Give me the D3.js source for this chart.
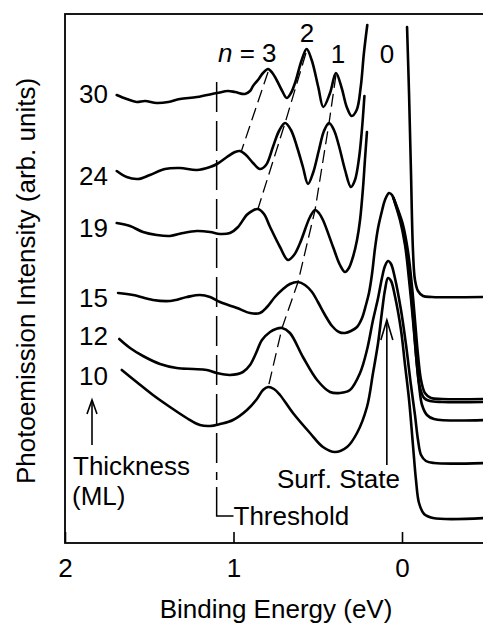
<!DOCTYPE html>
<html>
<head>
<meta charset="utf-8">
<script src="https://d3js.org/d3.v7.min.js"></script>
<style>
  body { margin: 0; background: #fff; }
  text { font-family: "Liberation Sans", Arial, Helvetica, sans-serif; fill: #000; }
</style>
</head>
<body>
<svg id="chart" width="483" height="626"></svg>
<script>
// thickness labels (ML), top to bottom
const thickness = ["30", "24", "19", "15", "12", "10"];
const tickValues = [2, 1, 0];

// spectra: [binding energy (eV), intensity (arb.)], null = break in the curve
const ml30 = [[1.693,448],[1.634,444],[1.575,441],[1.525,442],[1.456,440],[1.387,441],[1.318,444],[1.217,446],[1.098,450],[1.033,452],[0.991,451],[0.932,449],[0.902,452],[0.884,457],[0.855,463],[0.825,470],[0.795,474],[0.769,470],[0.744,463],[0.714,453],[0.684,445],[0.659,450],[0.635,460],[0.595,483],[0.566,494],[0.536,483],[0.497,456],[0.467,436],[0.427,450],[0.392,470],[0.358,455],[0.328,436],[0.299,427],[0.269,433],[0.245,456],[0.226,490],[0.206,518],[0.09,null],[-0.030,516],[-0.042,448],[-0.053,373],[-0.065,293],[-0.077,263],[-0.095,252],[-0.125,247],[-0.178,246],[-0.5,246]];
const ml24 = [[1.693,372],[1.634,366],[1.567,364],[1.496,368],[1.407,374],[1.318,375],[1.217,373],[1.139,376],[1.098,379],[1.039,386],[0.991,391],[0.961,392],[0.926,388],[0.884,380],[0.843,374],[0.807,378],[0.766,396],[0.730,412],[0.694,420],[0.659,413],[0.623,396],[0.588,376],[0.558,359],[0.528,370],[0.493,393],[0.463,412],[0.433,420],[0.404,413],[0.374,397],[0.338,373],[0.303,356],[0.279,363],[0.255,385],[0.237,415],[0.223,447],[0.12,null],[0.053,346],[0.030,336],[-0.006,318],[-0.036,291],[-0.059,257],[-0.077,223],[-0.095,188],[-0.113,163],[-0.136,150],[-0.172,145],[-0.237,144],[-0.5,144]];
const ml19 = [[1.693,320],[1.614,317],[1.537,311],[1.456,308],[1.377,307],[1.300,310],[1.218,312],[1.139,311],[1.080,309],[1.021,310],[0.973,316],[0.922,328],[0.890,332],[0.855,334],[0.819,329],[0.783,316],[0.724,296],[0.677,283],[0.641,288],[0.605,300],[0.546,326],[0.516,333],[0.493,330],[0.469,323],[0.409,296],[0.368,278],[0.338,271],[0.315,275],[0.291,286],[0.267,303],[0.249,323],[0.231,356],[0.220,383],[0.208,411],[0.12,null],[0.050,345],[0.024,332],[-0.006,314],[-0.030,288],[-0.053,251],[-0.071,215],[-0.089,178],[-0.107,155],[-0.131,145],[-0.166,142],[-0.237,141],[-0.5,141]];
const ml15 = [[1.685,250],[1.596,248],[1.478,243],[1.377,242],[1.276,246],[1.199,248],[1.139,246],[1.080,241],[0.979,235],[0.902,230],[0.843,230],[0.801,236],[0.754,246],[0.706,254],[0.665,259],[0.617,261],[0.576,258],[0.534,251],[0.499,241],[0.457,228],[0.415,217],[0.374,211],[0.338,210],[0.303,212],[0.267,216],[0.237,225],[0.214,238],[0.196,250],[0.178,269],[0.160,295],[0.142,315],[0.119,332],[0.101,343],[0.077,350],[0.059,348],[0.042,340],[0.012,323],[-0.018,298],[-0.042,263],[-0.065,223],[-0.083,188],[-0.101,158],[-0.119,138],[-0.148,128],[-0.190,124],[-0.5,123]];
const ml12 = [[1.678,204],[1.614,195],[1.537,187],[1.436,179],[1.337,175],[1.240,174],[1.159,173],[1.100,170],[1.021,168],[0.944,171],[0.902,178],[0.866,190],[0.831,203],[0.783,211],[0.748,214],[0.712,215],[0.665,210],[0.588,186],[0.504,163],[0.427,151],[0.368,150],[0.309,153],[0.249,170],[0.208,193],[0.172,223],[0.142,245],[0.119,265],[0.101,277],[0.083,282],[0.065,279],[0.042,265],[0.006,233],[-0.024,198],[-0.053,158],[-0.077,128],[-0.095,103],[-0.113,88],[-0.142,82],[-0.190,80],[-0.5,80]];
const ml10 = [[1.663,173],[1.575,161],[1.478,148],[1.377,136],[1.278,125],[1.199,118],[1.139,117],[1.080,119],[1.003,123],[0.920,133],[0.861,144],[0.825,153],[0.795,156],[0.760,154],[0.724,148],[0.647,130],[0.546,110],[0.469,96],[0.398,91],[0.326,96],[0.267,110],[0.208,136],[0.172,170],[0.142,200],[0.119,231],[0.101,253],[0.083,265],[0.065,262],[0.042,247],[0.006,213],[-0.018,178],[-0.042,143],[-0.065,98],[-0.083,63],[-0.101,40],[-0.131,29],[-0.184,25],[-0.5,25]];

// dashed guides through the quantum well peaks
const branchN3 = [[0.795,471],[0.955,391]];
const branchN2 = [[0.570,490],[0.694,420],[0.855,334]];
const branchN1 = [[0.392,468],[0.433,420],[0.516,333],[0.617,261],[0.712,215],[0.795,155]];
const thresholdEV = 1.1;
const surfStateEV = 0.09;

const spectra = [ml30, ml24, ml19, ml15, ml12, ml10];
const branches = [branchN3, branchN2, branchN1];

const svg = d3.select("#chart");
const font = "'Liberation Sans', Arial, Helvetica, sans-serif";

const x = d3.scaleLinear().domain([2, -0.5]).range([65, 486.25]);
const y = d3.scaleLinear().domain([0, 529]).range([543, 14]);

svg.append("rect").attr("width", 483).attr("height", 626).attr("fill", "#fff");

// frame
svg.append("rect")
  .attr("x", 65).attr("y", 14)
  .attr("width", 440).attr("height", 529)
  .attr("fill", "none").attr("stroke", "#000").attr("stroke-width", 1.8);

// x axis, ticks pointing in
const xAxis = d3.axisBottom(x)
  .tickValues(tickValues)
  .tickFormat(d3.format("d"))
  .tickSizeInner(-11)
  .tickSizeOuter(0)
  .tickPadding(16);

const gx = svg.append("g")
  .attr("transform", "translate(0,543)")
  .call(xAxis);
gx.attr("font-size", 26).attr("font-family", font);
gx.select(".domain").remove();
gx.selectAll(".tick line").attr("stroke", "#000").attr("stroke-width", 1.6);
gx.selectAll(".tick text").attr("fill", "#000").attr("font-size", 26);

svg.append("text")
  .attr("x", 276).attr("y", 618)
  .attr("text-anchor", "middle").attr("font-size", 26)
  .text("Binding Energy (eV)");

svg.append("text")
  .attr("transform", "translate(35,281) rotate(-90)")
  .attr("text-anchor", "middle").attr("font-size", 26)
  .text("Photoemission Intensity (arb. units)");

// threshold marker
const tx = x(thresholdEV);
svg.append("line")
  .attr("x1", tx).attr("x2", tx).attr("y1", 82).attr("y2", 480)
  .attr("stroke", "#000").attr("stroke-width", 1.5)
  .attr("stroke-dasharray", "30,9");
svg.append("path")
  .attr("d", `M${tx},487V516H${x(1.0)}`)
  .attr("fill", "none").attr("stroke", "#000").attr("stroke-width", 1.5);
svg.append("text")
  .attr("x", x(1.0)).attr("y", 525).attr("font-size", 26)
  .text("Threshold");

// dashed peak guides
const guide = d3.line().x(d => x(d[0])).y(d => y(d[1]));
svg.append("g").selectAll("path")
  .data(branches)
  .join("path")
  .attr("d", guide)
  .attr("fill", "none").attr("stroke", "#000").attr("stroke-width", 1.3)
  .attr("stroke-dasharray", "13,6");

// spectra
const line = d3.line()
  .defined(d => d[1] !== null)
  .x(d => x(d[0]))
  .y(d => y(d[1]))
  .curve(d3.curveCatmullRom.alpha(0.5));

svg.append("g").selectAll("path")
  .data(spectra)
  .join("path")
  .attr("d", line)
  .attr("fill", "none")
  .attr("stroke", "#000")
  .attr("stroke-width", 2.6)
  .attr("stroke-linejoin", "round")
  .attr("stroke-linecap", "round");

// thickness labels
const labelBase = [103, 185, 237, 307, 345, 385];
svg.append("g").selectAll("text")
  .data(thickness)
  .join("text")
  .attr("x", 108)
  .attr("y", (d, i) => labelBase[i])
  .attr("text-anchor", "end")
  .attr("font-size", 26)
  .text(d => d);

// quantum numbers
const nLabel = svg.append("text").attr("x", 218).attr("y", 62).attr("font-size", 26);
nLabel.append("tspan").attr("font-style", "italic").text("n");
nLabel.append("tspan").text(" = 3");
[["2", 307, 42], ["1", 338, 63], ["0", 387, 63]].forEach(([t, px, py]) => {
  svg.append("text").attr("x", px).attr("y", py)
    .attr("text-anchor", "middle").attr("font-size", 26).text(t);
});

// arrows
function arrow(ax, yTail, yTip, head, half) {
  svg.append("line")
    .attr("x1", ax).attr("x2", ax).attr("y1", yTail).attr("y2", yTip)
    .attr("stroke", "#000").attr("stroke-width", 1.6);
  svg.append("path")
    .attr("d", `M${ax - half},${yTip + head}L${ax},${yTip}L${ax + half},${yTip + head}`)
    .attr("fill", "none").attr("stroke", "#000").attr("stroke-width", 1.6);
}
arrow(92, 445, 400, 14, 5);
arrow(x(surfStateEV), 465, 320, 20, 6);

svg.append("text").attr("x", 73).attr("y", 475).attr("font-size", 26).text("Thickness");
svg.append("text").attr("x", 72).attr("y", 505).attr("font-size", 26).text("(ML)");
svg.append("text").attr("x", 277).attr("y", 488).attr("font-size", 26).text("Surf. State");
</script>
</body>
</html>
